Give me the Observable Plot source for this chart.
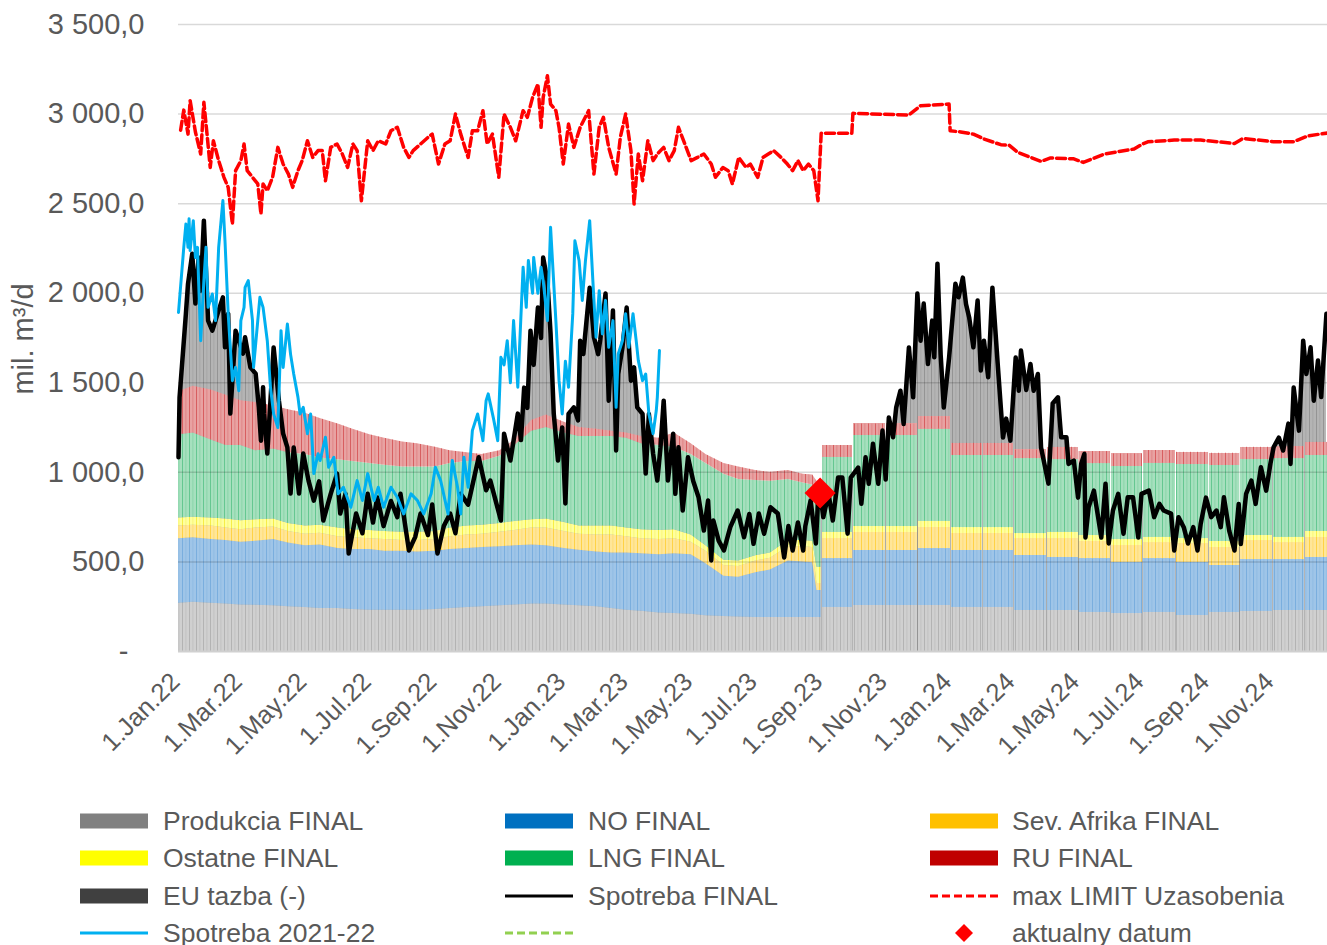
<!DOCTYPE html>
<html><head><meta charset="utf-8">
<script src="https://cdn.jsdelivr.net/npm/d3@7"></script>
<script src="https://cdn.jsdelivr.net/npm/@observablehq/plot@0.6"></script>
<style>
body{margin:0;background:#fff;font-family:"Liberation Sans",Arial,sans-serif;}
#wrap{position:relative;width:1327px;height:945px;overflow:hidden;background:#fff;}
#chart{position:absolute;left:0;top:0;}
.lt{position:absolute;font-size:26.5px;line-height:32px;color:#595959;white-space:nowrap;}
.ls{position:absolute;}
#ytitle{position:absolute;left:23px;top:339px;font-size:29px;line-height:29px;color:#595959;white-space:nowrap;transform:translate(-50%,-50%) rotate(-90deg);}
</style></head>
<body><div id="wrap"><div id="chart"></div><div id="ytitle"></div></div>
<script>
// ---------------- DATA ----------------
const yTicks = [0, 500, 1000, 1500, 2000, 2500, 3000, 3500];
const xTickDates = ["2022-01-01","2022-03-01","2022-05-01","2022-07-01","2022-09-01","2022-11-01","2023-01-01","2023-03-01","2023-05-01","2023-07-01","2023-09-01","2023-11-01","2024-01-01","2024-03-01","2024-05-01","2024-07-01","2024-09-01","2024-11-01"];
const yTitle = "mil. m³/d";

const stackSeries = ["Produkcia FINAL","NO FINAL","Sev. Afrika FINAL","Ostatne FINAL","LNG FINAL","RU FINAL"];

// daily-period supply (read roughly twice a month)
const earlyDates = ["2022-01-01","2022-01-15","2022-02-01","2022-02-15","2022-03-01","2022-03-15","2022-04-01","2022-04-15","2022-05-01","2022-05-15","2022-06-01","2022-06-15","2022-07-01","2022-07-15","2022-08-01","2022-08-15","2022-09-01","2022-09-15","2022-10-01","2022-10-15","2022-11-01","2022-11-15","2022-12-01","2022-12-15","2023-01-01","2023-01-15","2023-02-01","2023-02-15","2023-03-01","2023-03-15","2023-04-01","2023-04-15","2023-05-01","2023-05-15","2023-06-01","2023-06-15","2023-07-01","2023-07-15","2023-08-01","2023-08-15","2023-08-24","2023-08-28","2023-09-01"];
const earlyProdukcia = [270,275,270,265,260,258,255,250,245,240,240,235,230,230,230,230,235,240,245,250,255,260,265,265,260,255,250,240,230,225,215,212,208,200,195,192,190,190,190,190,190,190,190];
const earlyNO = [360,360,355,355,350,357,370,355,345,355,335,335,340,330,330,325,325,330,330,330,330,330,330,325,315,310,305,310,320,320,325,333,332,290,225,223,250,265,315,310,305,150,150];
const earlySevAfrika = [70,70,75,70,70,75,70,65,65,65,65,65,60,65,60,65,65,70,75,75,80,85,95,100,95,90,95,100,90,85,85,85,70,70,60,60,65,65,80,85,85,40,40];
const earlyOstatne = [45,45,45,50,50,45,45,45,45,45,50,45,45,45,45,45,45,50,50,50,50,50,45,50,50,45,50,50,50,50,50,50,40,30,30,30,30,30,35,35,35,90,90];
const earlyLNG = [465,470,435,410,420,385,390,395,400,375,380,380,375,370,365,365,360,360,360,355,375,425,495,510,500,500,500,500,500,480,475,460,450,460,480,455,420,400,340,320,315,410,410];
const earlyRU = [240,260,280,280,250,270,240,240,230,220,200,180,160,150,140,130,110,70,50,40,30,30,60,70,60,50,40,30,30,40,40,80,60,50,60,70,55,50,50,50,55,70,70];

// monthly-plan period supply
const lateMonths = ["2023-09-01","2023-10-01","2023-11-01","2023-12-01","2024-01-01","2024-02-01","2024-03-01","2024-04-01","2024-05-01","2024-06-01","2024-07-01","2024-08-01","2024-09-01","2024-10-01","2024-11-01","2024-12-01"];
const lateProdukcia = [247,257,257,257,247,247,229,228,219,210,219,201,219,225,229,229];
const lateNO = [270,307,307,316,317,317,307,298,298,288,298,297,261,287,283,297];
const lateSevAfrika = [112,102,102,121,96,96,93,103,99,93,89,103,102,107,94,112];
const lateOstatne = [37,31,31,33,30,30,28,37,31,32,32,28,32,28,32,32];
const lateLNG = [418,508,508,515,404,404,418,404,400,409,413,414,424,423,437,424];
const lateRU = [66,65,65,69,68,68,50,70,69,71,71,69,69,70,69,74];

const spotrebaFinal = [["2022-01-01",1084],["2022-01-02",1419],["2022-01-08",1886],["2022-01-10",2053],["2022-01-14",2220],["2022-01-17",1942],["2022-01-20",2200],["2022-01-22",2014],["2022-01-25",2405],["2022-01-29",1847],["2022-02-02",1791],["2022-02-07",1886],["2022-02-12",1977],["2022-02-14",1698],["2022-02-17",1886],["2022-02-19",1328],["2022-02-24",1791],["2022-03-03",1663],["2022-03-05",1754],["2022-03-10",1586],["2022-03-15",1551],["2022-03-18",1363],["2022-03-20",1177],["2022-03-22",1475],["2022-03-23",1326],["2022-03-26",1105],["2022-04-01",1697],["2022-04-06",1400],["2022-04-10",1216],["2022-04-14",1139],["2022-04-17",882],["2022-04-20",1139],["2022-04-25",882],["2022-04-29",1105],["2022-05-04",954],["2022-05-09",842],["2022-05-14",950],["2022-05-18",731],["2022-05-25",880],["2022-05-31",993],["2022-06-03",770],["2022-06-08",880],["2022-06-11",547],["2022-06-18",770],["2022-06-24",660],["2022-06-29",880],["2022-07-04",720],["2022-07-08",860],["2022-07-14",700],["2022-07-21",840],["2022-07-27",750],["2022-07-30",880],["2022-08-07",564],["2022-08-13",640],["2022-08-18",770],["2022-08-25",650],["2022-08-29",820],["2022-09-03",547],["2022-09-09",700],["2022-09-15",770],["2022-09-20",660],["2022-09-25",880],["2022-10-02",820],["2022-10-12",1084],["2022-10-19",900],["2022-10-23",954],["2022-11-02",731],["2022-11-05",1216],["2022-11-11",1066],["2022-11-18",1328],["2022-11-21",1180],["2022-11-24",1473],["2022-11-27",1360],["2022-11-30",1791],["2022-12-03",1600],["2022-12-07",1920],["2022-12-10",1750],["2022-12-12",2199],["2022-12-16",2070],["2022-12-19",1773],["2022-12-22",1328],["2022-12-26",1066],["2022-12-30",1251],["2023-01-02",826],["2023-01-05",1326],["2023-01-10",1363],["2023-01-14",1290],["2023-01-16",1735],["2023-01-19",1661],["2023-01-25",2031],["2023-01-29",1754],["2023-02-02",1660],["2023-02-04",1740],["2023-02-09",1998],["2023-02-12",1400],["2023-02-16",1903],["2023-02-19",1122],["2023-02-21",1549],["2023-02-25",1698],["2023-03-01",1920],["2023-03-05",1512],["2023-03-08",1586],["2023-03-11",1363],["2023-03-16",1326],["2023-03-19",993],["2023-03-22",1326],["2023-03-26",1104],["2023-03-30",954],["2023-04-02",1140],["2023-04-05",1400],["2023-04-09",954],["2023-04-14",1216],["2023-04-16",880],["2023-04-19",1140],["2023-04-23",787],["2023-04-28",1084],["2023-05-03",950],["2023-05-08",861],["2023-05-13",675],["2023-05-17",843],["2023-05-20",508],["2023-05-22",731],["2023-05-27",619],["2023-06-01",564],["2023-06-07",694],["2023-06-14",787],["2023-06-20",638],["2023-06-25",768],["2023-06-29",601],["2023-07-04",770],["2023-07-09",657],["2023-07-15",805],["2023-07-22",770],["2023-07-28",525],["2023-08-01",700],["2023-08-05",564],["2023-08-10",720],["2023-08-15",564],["2023-08-17",700],["2023-08-22",843],["2023-08-27",603],["2023-08-29",843],["2023-08-31",885],["2023-09-03",750],["2023-09-08",880],["2023-09-12",731],["2023-09-17",971],["2023-09-21",971],["2023-09-26",658],["2023-09-29",971],["2023-10-06",1027],["2023-10-09",825],["2023-10-13",1084],["2023-10-16",936],["2023-10-20",1160],["2023-10-25",936],["2023-10-29",1233],["2023-11-01",960],["2023-11-04",1306],["2023-11-08",1196],["2023-11-11",1363],["2023-11-15",1456],["2023-11-18",1270],["2023-11-23",1697],["2023-11-27",1419],["2023-12-01",1998],["2023-12-04",1735],["2023-12-07",1942],["2023-12-11",1605],["2023-12-15",1847],["2023-12-17",1642],["2023-12-20",2165],["2023-12-23",1660],["2023-12-26",1362],["2023-12-31",1640],["2024-01-06",2053],["2024-01-09",1977],["2024-01-13",2087],["2024-01-16",1940],["2024-01-19",1865],["2024-01-23",1698],["2024-01-27",1959],["2024-01-30",1568],["2024-02-02",1735],["2024-02-06",1531],["2024-02-10",2031],["2024-02-15",1605],["2024-02-20",1194],["2024-02-23",1300],["2024-02-27",1177],["2024-03-03",1641],["2024-03-06",1456],["2024-03-08",1680],["2024-03-13",1460],["2024-03-17",1605],["2024-03-20",1456],["2024-03-24",1549],["2024-03-27",1139],["2024-04-03",937],["2024-04-07",1384],["2024-04-12",1419],["2024-04-15",1196],["2024-04-20",1196],["2024-04-22",1047],["2024-04-27",1066],["2024-05-01",859],["2024-05-04",1049],["2024-05-07",1103],["2024-05-08",636],["2024-05-11",805],["2024-05-16",898],["2024-05-20",750],["2024-05-23",636],["2024-05-27",937],["2024-05-30",603],["2024-06-03",787],["2024-06-08",880],["2024-06-13",657],["2024-06-17",861],["2024-06-22",861],["2024-06-27",636],["2024-06-30",880],["2024-07-07",898],["2024-07-12",750],["2024-07-17",824],["2024-07-21",787],["2024-07-28",770],["2024-07-31",564],["2024-08-04",750],["2024-08-09",694],["2024-08-13",603],["2024-08-18",694],["2024-08-22",564],["2024-08-25",712],["2024-08-30",859],["2024-09-04",750],["2024-09-09",787],["2024-09-13",694],["2024-09-16",861],["2024-09-21",675],["2024-09-26",564],["2024-09-30",824],["2024-10-02",600],["2024-10-07",880],["2024-10-12",954],["2024-10-16",824],["2024-10-21",1028],["2024-10-26",898],["2024-10-30",1049],["2024-11-02",1140],["2024-11-07",1194],["2024-11-11",1122],["2024-11-16",1272],["2024-11-18",1047],["2024-11-21",1473],["2024-11-26",1233],["2024-11-30",1735],["2024-12-03",1549],["2024-12-07",1698],["2024-12-10",1400],["2024-12-14",1624],["2024-12-17",1420],["2024-12-22",1886]];

const spotreba2122 = [["2022-01-01",1893],["2022-01-06",2256],["2022-01-08",2387],["2022-01-10",2256],["2022-01-11",2416],["2022-01-12",2238],["2022-01-15",2405],["2022-01-17",2200],["2022-01-19",2256],["2022-01-20",2070],["2022-01-22",1735],["2022-01-25",2070],["2022-01-27",2256],["2022-01-29",1921],["2022-02-02",1996],["2022-02-05",1847],["2022-02-08",2256],["2022-02-12",2517],["2022-02-14",2290],["2022-02-17",1886],["2022-02-21",1512],["2022-02-24",1586],["2022-02-27",1456],["2022-03-01",1847],["2022-03-04",1921],["2022-03-05",2033],["2022-03-08",2070],["2022-03-12",1847],["2022-03-13",1586],["2022-03-17",1847],["2022-03-19",1977],["2022-03-22",1921],["2022-03-26",1735],["2022-03-29",1475],["2022-04-01",1326],["2022-04-05",1250],["2022-04-08",1791],["2022-04-10",1586],["2022-04-14",1828],["2022-04-17",1660],["2022-04-20",1549],["2022-04-24",1420],["2022-04-26",1326],["2022-04-29",1363],["2022-05-03",1216],["2022-05-06",1326],["2022-05-09",993],["2022-05-13",1104],["2022-05-15",1066],["2022-05-20",1196],["2022-05-23",1028],["2022-05-28",1084],["2022-06-01",880],["2022-06-06",917],["2022-06-13",805],["2022-06-19",954],["2022-06-24",843],["2022-06-29",993],["2022-07-05",843],["2022-07-09",917],["2022-07-14",805],["2022-07-21",917],["2022-07-27",861],["2022-08-02",768],["2022-08-09",880],["2022-08-15",843],["2022-08-21",768],["2022-08-28",880],["2022-09-01",1028],["2022-09-06",954],["2022-09-13",768],["2022-09-17",1066],["2022-09-22",917],["2022-09-25",768],["2022-09-28",1084],["2022-10-02",917],["2022-10-06",1233],["2022-10-11",1326],["2022-10-16",1177],["2022-10-19",1400],["2022-10-21",1438],["2022-10-26",1300],["2022-10-30",1177],["2022-11-02",1642],["2022-11-05",1600],["2022-11-08",1735],["2022-11-11",1500],["2022-11-14",1847],["2022-11-18",1475],["2022-11-23",2145],["2022-11-26",1921],["2022-11-28",2182],["2022-12-02",2000],["2022-12-03",2200],["2022-12-07",2000],["2022-12-10",2145],["2022-12-12",2070],["2022-12-16",1847],["2022-12-19",2368],["2022-12-24",1847],["2022-12-27",1512],["2022-12-30",1326],["2023-01-02",1620],["2023-01-05",1475],["2023-01-09",1886],["2023-01-11",2293],["2023-01-15",2182],["2023-01-18",1960],["2023-01-21",2182],["2023-01-25",2405],["2023-01-28",2070],["2023-01-31",1754],["2023-02-03",2014],["2023-02-06",1773],["2023-02-09",1960],["2023-02-12",1698],["2023-02-16",1847],["2023-02-19",1363],["2023-02-21",1661],["2023-02-25",1735],["2023-02-28",1886],["2023-03-03",1698],["2023-03-07",1886],["2023-03-10",1735],["2023-03-12",1624],["2023-03-16",1512],["2023-03-19",1549],["2023-03-22",1326],["2023-03-26",1216],["2023-03-29",1345],["2023-03-30",1420],["2023-04-01",1680]];

const maxLimit = [["2022-01-03",2910],["2022-01-06",3022],["2022-01-10",2888],["2022-01-12",3075],["2022-01-17",2900],["2022-01-22",2777],["2022-01-25",3066],["2022-01-28",2888],["2022-01-31",2702],["2022-02-03",2851],["2022-02-08",2740],["2022-02-13",2647],["2022-02-17",2591],["2022-02-21",2386],["2022-02-24",2684],["2022-03-01",2740],["2022-03-04",2833],["2022-03-07",2684],["2022-03-12",2647],["2022-03-17",2610],["2022-03-20",2442],["2022-03-22",2610],["2022-03-26",2572],["2022-03-31",2647],["2022-04-05",2814],["2022-04-10",2721],["2022-04-15",2665],["2022-04-19",2591],["2022-04-24",2684],["2022-04-28",2740],["2022-05-03",2851],["2022-05-08",2758],["2022-05-13",2796],["2022-05-17",2796],["2022-05-20",2628],["2022-05-25",2814],["2022-05-31",2833],["2022-06-05",2777],["2022-06-10",2702],["2022-06-15",2833],["2022-06-19",2796],["2022-06-23",2516],["2022-06-29",2851],["2022-07-04",2796],["2022-07-09",2851],["2022-07-16",2833],["2022-07-21",2907],["2022-07-27",2926],["2022-08-02",2814],["2022-08-07",2758],["2022-08-11",2796],["2022-08-18",2833],["2022-08-25",2870],["2022-08-29",2888],["2022-09-04",2721],["2022-09-10",2833],["2022-09-15",2851],["2022-09-20",3000],["2022-09-25",2888],["2022-10-02",2758],["2022-10-06",2907],["2022-10-11",2907],["2022-10-16",3019],["2022-10-20",2833],["2022-10-25",2888],["2022-10-31",2647],["2022-11-05",3000],["2022-11-11",2926],["2022-11-16",2851],["2022-11-23",3019],["2022-11-27",2982],["2022-12-02",3093],["2022-12-07",3168],["2022-12-10",2926],["2022-12-12",3093],["2022-12-16",3214],["2022-12-19",3056],["2022-12-24",3019],["2022-12-27",2926],["2022-12-31",2721],["2023-01-05",2944],["2023-01-10",2814],["2023-01-16",2926],["2023-01-24",3019],["2023-01-29",2665],["2023-02-03",2926],["2023-02-07",2982],["2023-02-12",2814],["2023-02-19",2665],["2023-02-23",2870],["2023-02-28",3000],["2023-03-05",2796],["2023-03-08",2498],["2023-03-12",2777],["2023-03-16",2628],["2023-03-21",2851],["2023-03-26",2740],["2023-03-30",2777],["2023-04-05",2814],["2023-04-10",2740],["2023-04-15",2796],["2023-04-19",2926],["2023-04-25",2833],["2023-05-01",2740],["2023-05-07",2758],["2023-05-13",2777],["2023-05-20",2721],["2023-05-24",2647],["2023-05-31",2702],["2023-06-05",2684],["2023-06-09",2609],["2023-06-15",2758],["2023-06-22",2702],["2023-06-26",2721],["2023-07-03",2647],["2023-07-08",2758],["2023-07-13",2777],["2023-07-18",2796],["2023-07-25",2758],["2023-07-31",2721],["2023-08-05",2684],["2023-08-10",2740],["2023-08-15",2684],["2023-08-20",2721],["2023-08-25",2684],["2023-08-29",2516],["2023-09-01",2893],["2023-09-30",2893],["2023-10-01",3004],["2023-11-23",2995],["2023-12-04",3047],["2023-12-31",3056],["2024-01-01",2907],["2024-01-11",2900],["2024-01-23",2888],["2024-02-02",2861],["2024-02-18",2829],["2024-02-26",2825],["2024-03-05",2786],["2024-03-27",2736],["2024-04-05",2755],["2024-04-27",2750],["2024-05-06",2730],["2024-05-26",2777],["2024-06-23",2805],["2024-07-01",2833],["2024-07-06",2845],["2024-07-31",2855],["2024-08-25",2855],["2024-09-26",2836],["2024-10-04",2864],["2024-11-02",2846],["2024-11-21",2846],["2024-12-05",2879],["2024-12-23",2894]];

const aktualnyDatum = [["2023-08-31", 885]];

const legendLabels = ["Produkcia FINAL","NO FINAL","Sev. Afrika FINAL","Ostatne FINAL","LNG FINAL","RU FINAL","EU tazba (-)","Spotreba FINAL","max LIMIT Uzasobenia","Spotreba 2021-22","","aktualny datum"];
const legendKinds = ["rect","rect","rect","rect","rect","rect","rect","line","dash","line","dash","diamond"];
const legendColors = ["#808080","#0070c0","#ffc000","#ffff00","#00b050","#c00000","#404040","#000000","#ff0000","#00b0f0","#92d050","#ff0000"];

// ---------------- STYLE ----------------
const paleColors = ["#d0d0d0","#9fc5e8","#ffe699","#ffff9e","#a6e0be","#e8a2a2"];
const stripeColors = ["#9a9a9a","#5b9bd5","#ffc000","#eee000","#2fb36b","#c8262a"];
const euFill = "#b4b4b4", euStripe = "#7a7a7a";

// ---------------- BUILD ----------------
const parseDate = d3.utcParse("%Y-%m-%d");
function toRows(dates, arrays) {
  const rows = [];
  dates.forEach((d, i) => arrays.forEach((arr, k) => rows.push({date: parseDate(d), series: stackSeries[k], value: arr[i]})));
  return rows;
}
const earlyRows = toRows(earlyDates, [earlyProdukcia, earlyNO, earlySevAfrika, earlyOstatne, earlyLNG, earlyRU]);
const lateRows = toRows(lateMonths, [lateProdukcia, lateNO, lateSevAfrika, lateOstatne, lateLNG, lateRU]);
const pairs = arr => arr.map(([d, v]) => ({date: parseDate(d), value: v}));
const spot = pairs(spotrebaFinal), spot2122 = pairs(spotreba2122), limit = pairs(maxLimit), akt = pairs(aktualnyDatum);

const fmtY = v => v === 0 ? "-\u2007" : d3.format(",.1f")(v).replace(/,/g, "\u00a0").replace(".", ",");

const chart = Plot.plot({
  width: 1327, height: 790,
  marginLeft: 178, marginRight: 0, marginTop: 24, marginBottom: 139,
  style: {fontFamily: "'Liberation Sans', Arial, sans-serif", color: "#595959", background: "white", overflow: "visible"},
  x: {type: "utc", domain: [parseDate("2022-01-01"), parseDate("2024-12-23")]},
  y: {domain: [0, 3500]},
  color: {domain: stackSeries, range: paleColors},
  marks: [
    Plot.areaY(spot, {x: "date", y: "value", fill: euFill}),
    Plot.areaY(spot, {x: "date", y: "value", fill: euFill, ariaDescription: "stripes-eu"}),
    Plot.areaY(earlyRows, {x: "date", y: "value", z: "series", fill: "series"}),
    Plot.areaY(earlyRows, {x: "date", y: "value", z: "series", fill: "series", ariaDescription: "stripes-stack"}),
    Plot.rectY(lateRows, {x: "date", interval: d3.utcMonth, y: "value", fill: "series", clip: true, shapeRendering: "crispEdges"}),
    Plot.rectY(lateRows, {x: "date", interval: d3.utcMonth, y: "value", fill: "series", clip: true, ariaDescription: "stripes-stack"}),
    Plot.ruleY(yTicks.filter(v => v > 0), {stroke: "#000", strokeOpacity: 0.15, strokeWidth: 1.5}),
    Plot.ruleY([0], {stroke: "#d0d0d0", strokeWidth: 2}),
    Plot.axisY({ticks: yTicks, tickSize: 0, tickPadding: 34, tickFormat: fmtY, fontSize: 29, label: null}),
    Plot.axisX({ticks: xTickDates.map(parseDate), tickSize: 0, tickPadding: 26, dx: -3, tickRotate: -45, tickFormat: d3.utcFormat("1.%b.%y"), fontSize: 25.5, label: null}),
    Plot.line(spot, {x: "date", y: "value", stroke: "#000000", strokeWidth: 4.5, strokeLinejoin: "round"}),
    Plot.line(spot2122, {x: "date", y: "value", stroke: "#00b0f0", strokeWidth: 3, strokeLinejoin: "round"}),
    Plot.line(limit, {x: "date", y: "value", stroke: "#ff0000", strokeWidth: 3.5, strokeDasharray: "9,4"}),
    Plot.dot(akt, {x: "date", y: "value", symbol: "diamond2", r: 14, fill: "#ff0000", stroke: "none"})
  ]
});
document.getElementById("chart").appendChild(chart);
document.getElementById("ytitle").textContent = yTitle;

// stripe textures imitating the daily columns
const ns = "http://www.w3.org/2000/svg";
const defs = document.createElementNS(ns, "defs");
function addPattern(id, color) {
  const p = document.createElementNS(ns, "pattern");
  p.setAttribute("id", id); p.setAttribute("patternUnits", "userSpaceOnUse");
  p.setAttribute("width", "7"); p.setAttribute("height", "10");
  [[0, 1, 0.55], [3.5, 0.8, 0.3]].forEach(([x, w, o]) => {
    const r = document.createElementNS(ns, "rect");
    r.setAttribute("x", x); r.setAttribute("y", 0); r.setAttribute("width", w); r.setAttribute("height", 10);
    r.setAttribute("fill", color); r.setAttribute("fill-opacity", o);
    p.appendChild(r);
  });
  defs.appendChild(p);
}
stripeColors.forEach((c, i) => addPattern("pat-" + i, c));
addPattern("pat-eu", euStripe);
chart.insertBefore(defs, chart.firstChild);
chart.querySelectorAll('g[aria-description="stripes-stack"]').forEach(g => {
  g.querySelectorAll("path, rect").forEach(el => {
    const i = paleColors.indexOf(el.getAttribute("fill"));
    if (i >= 0) el.setAttribute("fill", "url(#pat-" + i + ")");
  });
});
chart.querySelectorAll('g[aria-description="stripes-eu"]').forEach(g => {
  g.setAttribute("fill", "url(#pat-eu)");
  g.querySelectorAll("path").forEach(el => el.setAttribute("fill", "url(#pat-eu)"));
});

// legend
const wrap = document.getElementById("wrap");
const colX = [80, 505, 930], textX = [163, 588, 1012], rowY = [821, 858, 896, 933];
legendLabels.forEach((label, i) => {
  const c = i % 3, r = Math.floor(i / 3);
  const sw = document.createElementNS(ns, "svg");
  sw.setAttribute("width", 68); sw.setAttribute("height", 20); sw.setAttribute("class", "ls");
  sw.style.left = colX[c] + "px"; sw.style.top = (rowY[r] - 10) + "px";
  const kind = legendKinds[i], color = legendColors[i];
  let el;
  if (kind === "rect") {
    el = document.createElementNS(ns, "rect");
    el.setAttribute("x", 0); el.setAttribute("y", 2.5); el.setAttribute("width", 68); el.setAttribute("height", 15); el.setAttribute("fill", color);
  } else if (kind === "diamond") {
    el = document.createElementNS(ns, "polygon");
    el.setAttribute("points", "34,1 43,10 34,19 25,10"); el.setAttribute("fill", color);
  } else {
    el = document.createElementNS(ns, "line");
    el.setAttribute("x1", 0); el.setAttribute("x2", 68); el.setAttribute("y1", 10); el.setAttribute("y2", 10);
    el.setAttribute("stroke", color); el.setAttribute("stroke-width", 3);
    if (kind === "dash") el.setAttribute("stroke-dasharray", "8,4");
  }
  sw.appendChild(el);
  wrap.appendChild(sw);
  if (label) {
    const t = document.createElement("div");
    t.className = "lt"; t.textContent = label;
    t.style.left = textX[c] + "px"; t.style.top = (rowY[r] - 16) + "px";
    wrap.appendChild(t);
  }
});
</script>
</body></html>
